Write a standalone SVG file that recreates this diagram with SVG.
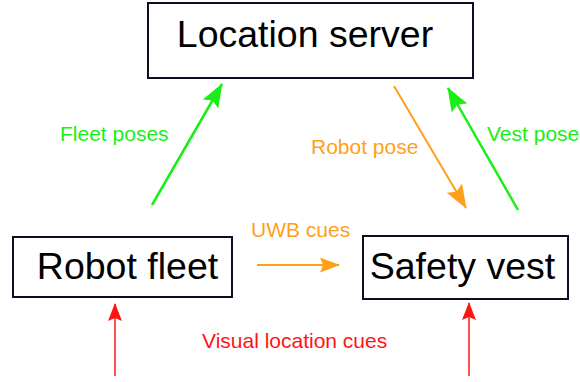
<svg xmlns="http://www.w3.org/2000/svg" width="580" height="382" viewBox="0 0 580 382">
<style>
.box{fill:#fff;stroke:#0d0d26;stroke-width:2}
.nt{font-family:"Liberation Sans",Arial,sans-serif;font-size:37.5px;fill:#000;text-anchor:middle}
.lb{font-family:"Liberation Sans",Arial,sans-serif;font-size:21px}
.g{stroke:#19ee19;stroke-width:2.5;fill:none}
.o{stroke:#ff9f1a;stroke-width:2;fill:none}
.r{stroke:#ff1414;stroke-width:1.5;fill:none}
</style>
<defs>
<marker id="mg" viewBox="0 0 24 18" refX="23" refY="9" markerWidth="24" markerHeight="18" markerUnits="userSpaceOnUse" orient="auto"><path d="M0,0 L24,9 L0,18 L4,9 z" fill="#19ee19"/></marker>
<marker id="mo" viewBox="0 0 24 18" refX="23" refY="9" markerWidth="24" markerHeight="18" markerUnits="userSpaceOnUse" orient="auto"><path d="M0,0 L24,9 L0,18 L4,9 z" fill="#ff9f1a"/></marker>
<marker id="mo2" viewBox="0 0 20 15" refX="19" refY="7.5" markerWidth="20" markerHeight="15" markerUnits="userSpaceOnUse" orient="auto"><path d="M0,0 L20,7.5 L0,15 L3,7.5 z" fill="#ff9f1a"/></marker>
<marker id="mr" viewBox="0 0 18 14" refX="17" refY="7" markerWidth="18" markerHeight="14" markerUnits="userSpaceOnUse" orient="auto"><path d="M0,0 L18,7 L0,14 L3,7 z" fill="#ff1414"/></marker>
</defs>
<g id="connectors">
<line class="g" x1="152" y1="205" x2="222" y2="84" marker-end="url(#mg)"/>
<line class="o" x1="394" y1="86" x2="466" y2="208" marker-end="url(#mo)"/>
<line class="g" x1="518" y1="210" x2="448" y2="88" marker-end="url(#mg)"/>
<line class="o" x1="257" y1="265" x2="339" y2="265" marker-end="url(#mo2)"/>
<line class="r" x1="115" y1="376" x2="115" y2="304" marker-end="url(#mr)"/>
<line class="r" x1="469" y1="376" x2="469" y2="303" marker-end="url(#mr)"/>
<text class="lb" x="60" y="141" fill="#19ee19">Fleet poses</text>
<text class="lb" x="311" y="154" fill="#ff9f1a">Robot pose</text>
<text class="lb" x="487" y="141" fill="#19ee19">Vest pose</text>
<text class="lb" x="251" y="237" fill="#ff9f1a">UWB cues</text>
<text class="lb" x="202" y="348" fill="#ff1414">Visual location cues</text>
</g>
<g id="location-server">
<rect class="box" x="148" y="3" width="325" height="75"/>
<text class="nt" x="305" y="47">Location server</text>
</g>
<g id="robot-fleet">
<rect class="box" x="13" y="237" width="219" height="60"/>
<text class="nt" x="127.5" y="279">Robot fleet</text>
</g>
<g id="safety-vest">
<rect class="box" x="363" y="236" width="205" height="63"/>
<text class="nt" x="462.5" y="279">Safety vest</text>
</g>
</svg>
